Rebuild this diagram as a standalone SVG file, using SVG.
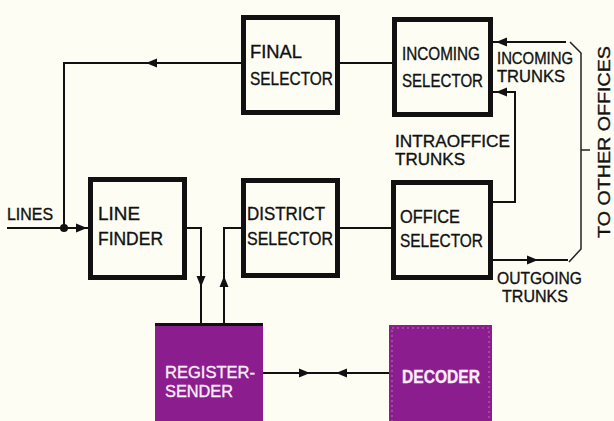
<svg xmlns="http://www.w3.org/2000/svg" width="614" height="421" viewBox="0 0 614 421">
<style>
.bg{fill:#fdfdf4}
.box{fill:#fdfdf4;stroke:#111;stroke-width:5}
.pbox{fill:#8c1d8e}
.ln{fill:none;stroke:#111;stroke-width:2}
.thin{fill:none;stroke:#222;stroke-width:1.5}
.t{font-family:"Liberation Sans Narrow","Liberation Sans","DejaVu Sans",sans-serif;font-size:18.5px;fill:#111;stroke:#111;stroke-width:0.35}
.s{font-size:17px}
.w{fill:#fbeefb;stroke:#fbeefb}
.b{font-weight:bold}
</style>
<defs>
<path id="ah" d="M0 0 L-11 -4.5 L-11 4.5 Z" fill="#111"/>
</defs>
<rect class="bg" x="0" y="0" width="614" height="421"/>

<g id="connectors">
<path class="ln" d="M241 63 H64 V228"/>
<use href="#ah" transform="translate(146 63) rotate(180)"/>
<path class="ln" d="M7 228 H88"/>
<circle cx="64" cy="228" r="4" fill="#111"/>
<use href="#ah" transform="translate(87 228)"/>
<path class="ln" d="M187 228 H201 V323"/>
<use href="#ah" transform="translate(201 287) rotate(90)"/>
<path class="ln" d="M224 323 V228 H241"/>
<use href="#ah" transform="translate(224 276) rotate(-90)"/>
<path class="ln" d="M340 63 H392"/>
<path class="ln" d="M340 228 H391"/>
<path class="ln" d="M493 42 H566"/>
<use href="#ah" transform="translate(496 42) rotate(180)"/>
<path class="ln" d="M493 202 H515 V92 H493"/>
<use href="#ah" transform="translate(496 92) rotate(180)"/>
<path class="ln" d="M493 260 H568"/>
<use href="#ah" transform="translate(538 260)"/>
<path class="thin" d="M570 42 L581 53 V249 L569 262"/>
<path class="thin" d="M581 150 H590"/>
<path class="ln" d="M263 373 H389"/>
<use href="#ah" transform="translate(310 373)"/>
<use href="#ah" transform="translate(336 373) rotate(180)"/>
</g>

<g id="final-selector">
<rect class="box" x="243.5" y="17.5" width="94" height="95"/>
<text class="t" x="250" y="58" textLength="52" lengthAdjust="spacingAndGlyphs">FINAL</text>
<text class="t" x="250" y="85" textLength="83" lengthAdjust="spacingAndGlyphs">SELECTOR</text>
</g>

<g id="incoming-selector">
<rect class="box" x="394.5" y="19.5" width="96" height="95"/>
<text class="t" x="402" y="60" textLength="78" lengthAdjust="spacingAndGlyphs">INCOMING</text>
<text class="t" x="402" y="87" textLength="81" lengthAdjust="spacingAndGlyphs">SELECTOR</text>
</g>

<g id="line-finder">
<rect class="box" x="90.5" y="179.5" width="94" height="98"/>
<text class="t" x="98" y="220" textLength="42" lengthAdjust="spacingAndGlyphs">LINE</text>
<text class="t" x="98" y="245" textLength="65" lengthAdjust="spacingAndGlyphs">FINDER</text>
</g>

<g id="district-selector">
<rect class="box" x="243.5" y="180.5" width="94" height="95"/>
<text class="t" x="247" y="220" textLength="78" lengthAdjust="spacingAndGlyphs">DISTRICT</text>
<text class="t" x="247" y="245" textLength="86" lengthAdjust="spacingAndGlyphs">SELECTOR</text>
</g>

<g id="office-selector">
<rect class="box" x="393.5" y="182.5" width="97" height="95"/>
<text class="t" x="400" y="223" textLength="60" lengthAdjust="spacingAndGlyphs">OFFICE</text>
<text class="t" x="400" y="247" textLength="83" lengthAdjust="spacingAndGlyphs">SELECTOR</text>
</g>

<g id="register-sender">
<rect class="pbox" x="155" y="323" width="108" height="100"/>
<path d="M155 324.5 H263" stroke="#111" stroke-width="3"/>
<text class="t s w" x="165" y="378" textLength="90" lengthAdjust="spacingAndGlyphs">REGISTER-</text>
<text class="t s w" x="165" y="397" textLength="68" lengthAdjust="spacingAndGlyphs">SENDER</text>
</g>

<g id="decoder">
<rect class="pbox" x="389" y="325" width="103" height="98"/>
<rect x="392" y="328" width="97" height="95" fill="none" stroke="#d9a6dc" stroke-width="1" stroke-dasharray="2 3" opacity="0.6"/>
<text class="t w b" x="402" y="383" textLength="78" lengthAdjust="spacingAndGlyphs">DECODER</text>
</g>

<g id="labels">
<text class="t s" x="7" y="220" textLength="46" lengthAdjust="spacingAndGlyphs">LINES</text>
<text class="t s" x="497" y="64" textLength="76" lengthAdjust="spacingAndGlyphs">INCOMING</text>
<text class="t s" x="497" y="82" textLength="68" lengthAdjust="spacingAndGlyphs">TRUNKS</text>
<text class="t s" x="395" y="147" textLength="115" lengthAdjust="spacingAndGlyphs">INTRAOFFICE</text>
<text class="t s" x="395" y="165" textLength="70" lengthAdjust="spacingAndGlyphs">TRUNKS</text>
<text class="t s" x="497" y="284" textLength="85" lengthAdjust="spacingAndGlyphs">OUTGOING</text>
<text class="t s" x="502" y="302" textLength="66" lengthAdjust="spacingAndGlyphs">TRUNKS</text>
<text class="t s" transform="translate(610 238) rotate(-90)" x="0" y="0" textLength="192" lengthAdjust="spacingAndGlyphs">TO OTHER OFFICES</text>
</g>
</svg>
